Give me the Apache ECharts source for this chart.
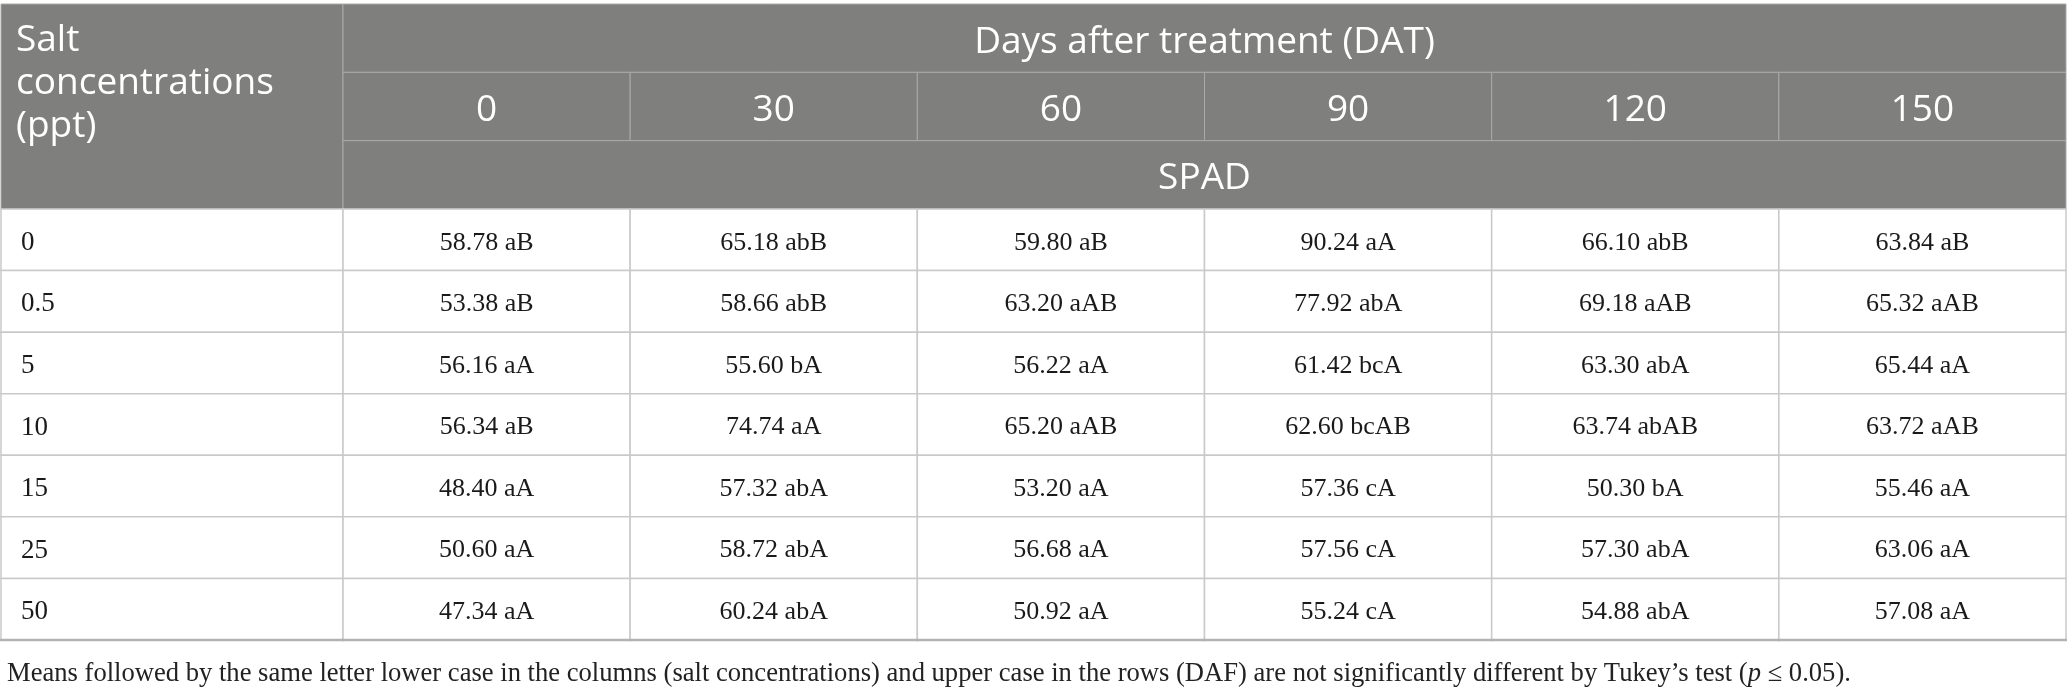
<!DOCTYPE html>
<html>
<head>
<meta charset="utf-8">
<title>SPAD by salt concentration and DAT</title>
<script src="https://cdn.jsdelivr.net/npm/echarts@6.0.0/dist/echarts.min.js"></script>
<style>
  html, body { margin: 0; padding: 0; background: #fff; }
  #table { width: 2067px; height: 693px; }
</style>
</head>
<body>
<div id="table"></div>
<script>
// table data
const days = ['0', '30', '60', '90', '120', '150'];
const salts = ['0', '0.5', '5', '10', '15', '25', '50'];
const spad = [
    [58.78, 65.18, 59.80, 90.24, 66.10, 63.84],
    [53.38, 58.66, 63.20, 77.92, 69.18, 65.32],
    [56.16, 55.60, 56.22, 61.42, 63.30, 65.44],
    [56.34, 74.74, 65.20, 62.60, 63.74, 63.72],
    [48.40, 57.32, 53.20, 57.36, 50.30, 55.46],
    [50.60, 58.72, 56.68, 57.56, 57.30, 63.06],
    [47.34, 60.24, 50.92, 55.24, 54.88, 57.08]
];
const letters = [
    ['aB', 'abB', 'aB', 'aA', 'abB', 'aB'],
    ['aB', 'abB', 'aAB', 'abA', 'aAB', 'aAB'],
    ['aA', 'bA', 'aA', 'bcA', 'abA', 'aA'],
    ['aB', 'aA', 'aAB', 'bcAB', 'abAB', 'aAB'],
    ['aA', 'abA', 'aA', 'cA', 'bA', 'aA'],
    ['aA', 'abA', 'aA', 'cA', 'abA', 'aA'],
    ['aA', 'abA', 'aA', 'cA', 'abA', 'aA']
];
const rowHeader = 'Salt\nconcentrations\n(ppt)';
const groupTitle = 'Days after treatment (DAT)';
const unitTitle = 'SPAD';
const footnote = 'Means followed by the same letter lower case in the columns (salt concentrations) and upper case in the rows (DAF) are not significantly different by Tukey\u2019s test (';

const HEAD_BG = '#7f807e';
const HEAD_LINE = '#a9aaa8';
const BODY_LINE = '#c9c9c9';
const SANS = '"Open Sans", "Noto Sans", sans-serif';
const SERIF = '"Liberation Serif", "DejaVu Serif", serif';

// 一个单元格：矩形 + 文字，span 为跨越的列数
function cell(api, params, opt) {
    const x = api.value(0), y = api.value(1);
    const span = opt.span || 1;
    const size = api.size([1, 1]);
    const c0 = api.coord([x, y]);
    const c1 = api.coord([x + span - 1, y]);
    const left = c0[0] - size[0] / 2;
    const top = c0[1] - size[1] / 2;
    const w = c1[0] - c0[0] + size[0];
    const h = size[1];
    const tx = opt.align === 'left' ? left + opt.pad : left + w / 2;
    const ty = opt.valign === 'top' ? top + opt.pad : top + h / 2 + (opt.dy || 0);
    const children = [{
        type: 'rect',
        shape: { x: left, y: top, width: w, height: h },
        style: { fill: opt.fill, stroke: opt.stroke, lineWidth: opt.lineWidth || 1 }
    }, {
        type: 'text',
        x: tx,
        y: ty,
        style: {
            text: opt.text,
            fill: opt.color,
            font: opt.font,
            lineHeight: opt.lineHeight,
            align: opt.align || 'center',
            textAlign: opt.align || 'center',
            verticalAlign: opt.valign || 'middle',
            textVerticalAlign: opt.valign || 'middle'
        }
    }];
    // 表格底边线稍粗
    if (opt.bottom) {
        children.push({
            type: 'line',
            shape: { x1: left - 1, y1: top + h, x2: left + w + 1, y2: top + h },
            style: { stroke: '#b2b2b2', lineWidth: 2.5 }
        });
    }
    return { type: 'group', children: children };
}

const headLeftData = [[0, 0, rowHeader]];
const headRightData = [[0, 0, groupTitle, 6]]
    .concat(days.map((d, i) => [i, 1, d, 1]))
    .concat([[0, 2, unitTitle, 6]]);
const bodyLeftData = salts.map((s, i) => [0, i, s]);
const bodyRightData = [];
spad.forEach((row, r) => {
    row.forEach((v, c) => {
        bodyRightData.push([c, r, v.toFixed(2) + ' ' + letters[r][c]]);
    });
});
const lastRow = salts.length - 1;

const chart = echarts.init(document.getElementById('table'), null, { renderer: 'canvas' });

const catAxis = (gridIndex, data, inverse) => ({
    type: 'category', gridIndex: gridIndex, data: data, inverse: !!inverse, show: false
});

chart.setOption({
    animation: false,
    backgroundColor: '#fff',
    title: {
        left: 2,
        top: 654,
        text: '{n|' + footnote + '}{i|p}{n| \u2264 0.05).}',
        textStyle: {
            fontWeight: 'normal',
            rich: {
                n: { fontFamily: SERIF, fontSize: 26.6, fontWeight: 'normal', color: '#222', lineHeight: 30 },
                i: { fontFamily: SERIF, fontSize: 26.6, fontWeight: 'normal', fontStyle: 'italic', color: '#222', lineHeight: 30 }
            }
        }
    },
    grid: [
        { left: 1, top: 4, width: 342, height: 205 },
        { left: 343, top: 4, right: 1, height: 205 },
        { left: 1, top: 209, width: 342, height: 431 },
        { left: 343, top: 209, right: 1, height: 431 }
    ],
    xAxis: [
        catAxis(0, ['salt']),
        catAxis(1, days),
        catAxis(2, ['salt']),
        catAxis(3, days)
    ],
    yAxis: [
        catAxis(0, ['head']),
        catAxis(1, ['group', 'day', 'unit'], true),
        catAxis(2, salts, true),
        catAxis(3, salts, true)
    ],
    series: [{
        type: 'custom',
        xAxisIndex: 0, yAxisIndex: 0,
        data: headLeftData,
        renderItem: (params, api) => cell(api, params, {
            text: headLeftData[params.dataIndex][2],
            fill: HEAD_BG, stroke: HEAD_LINE, color: '#fff',
            font: '37px ' + SANS, lineHeight: 43,
            align: 'left', valign: 'top', pad: 15
        })
    }, {
        type: 'custom',
        xAxisIndex: 1, yAxisIndex: 1,
        data: headRightData,
        renderItem: (params, api) => cell(api, params, {
            text: headRightData[params.dataIndex][2],
            span: headRightData[params.dataIndex][3],
            fill: HEAD_BG, stroke: HEAD_LINE, color: '#fff',
            font: '37px ' + SANS, dy: 4
        })
    }, {
        type: 'custom',
        xAxisIndex: 2, yAxisIndex: 2,
        data: bodyLeftData,
        renderItem: (params, api) => cell(api, params, {
            text: bodyLeftData[params.dataIndex][2],
            fill: '#fff', stroke: BODY_LINE, lineWidth: 1.5, color: '#1a1a1a',
            font: '27px ' + SERIF, align: 'left', pad: 20, dy: 3,
            bottom: bodyLeftData[params.dataIndex][1] === lastRow
        })
    }, {
        type: 'custom',
        xAxisIndex: 3, yAxisIndex: 3,
        data: bodyRightData,
        renderItem: (params, api) => cell(api, params, {
            text: bodyRightData[params.dataIndex][2],
            fill: '#fff', stroke: BODY_LINE, lineWidth: 1.5, color: '#1a1a1a',
            font: '26px ' + SERIF, dy: 3,
            bottom: bodyRightData[params.dataIndex][1] === lastRow
        })
    }]
});
</script>
</body>
</html>
